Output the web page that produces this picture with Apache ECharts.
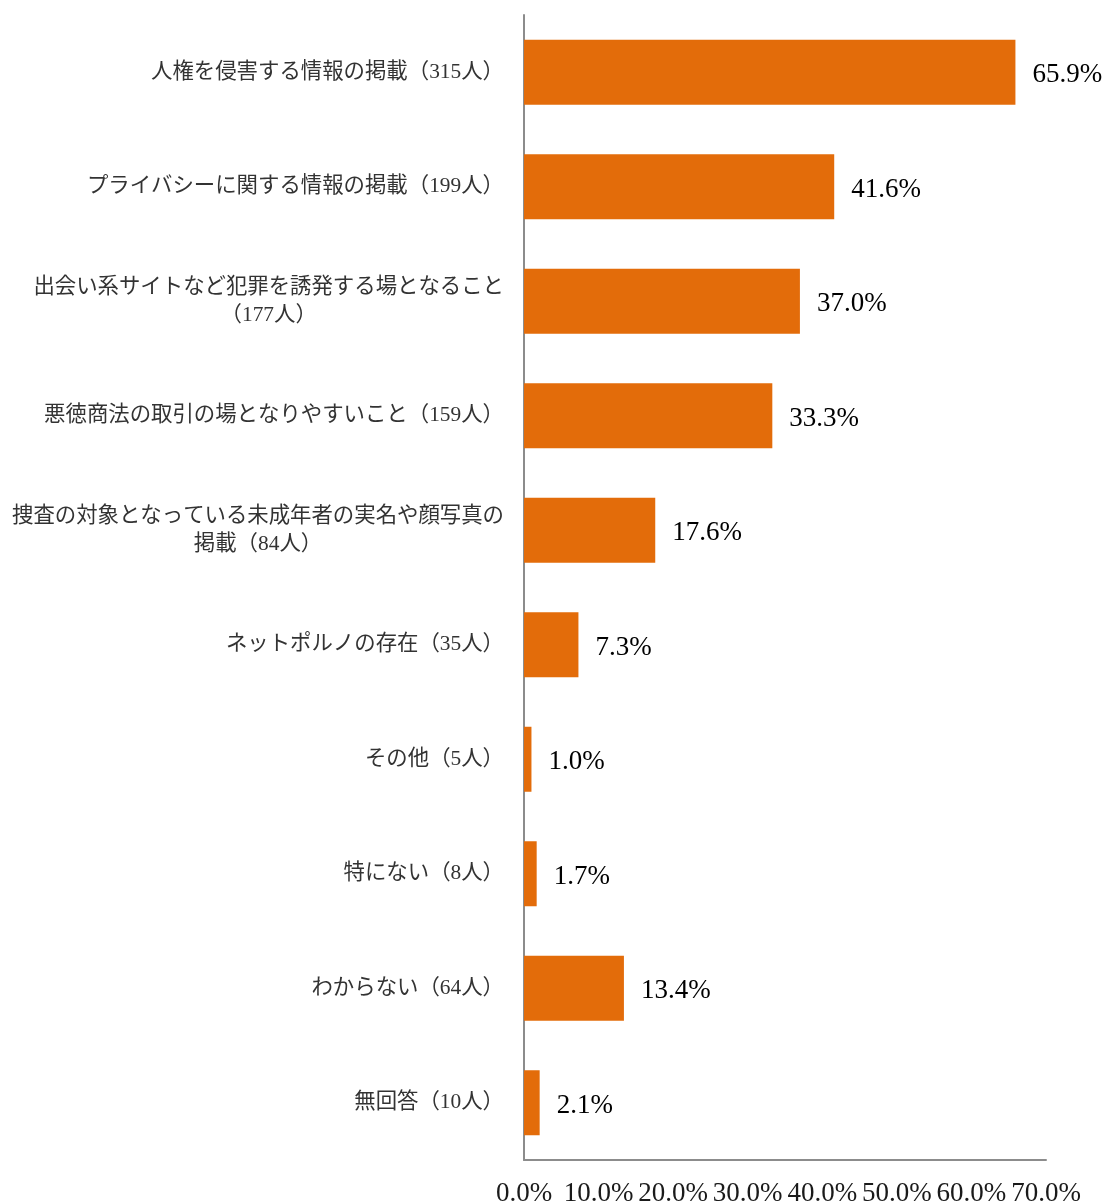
<!DOCTYPE html>
<html>
<head>
<meta charset="utf-8">
<script src="https://cdn.jsdelivr.net/npm/echarts@6/dist/echarts.min.js"></script>
<style>
  html, body { margin: 0; padding: 0; background: #fff; }
  #chart { width: 1107px; height: 1204px; }
</style>
</head>
<body>
<div id="chart"></div>
<script>
// Survey answers (top to bottom) and their share of respondents
const categories = [
  '人権を侵害する情報の掲載（315人）',
  'プライバシーに関する情報の掲載（199人）',
  '出会い系サイトなど犯罪を誘発する場となること\n（177人）',
  '悪徳商法の取引の場となりやすいこと（159人）',
  '捜査の対象となっている未成年者の実名や顔写真の\n掲載（84人）',
  'ネットポルノの存在（35人）',
  'その他（5人）',
  '特にない（8人）',
  'わからない（64人）',
  '無回答（10人）'
];
const percentages = [65.9, 41.6, 37.0, 33.3, 17.6, 7.3, 1.0, 1.7, 13.4, 2.1];
const axisMin = 0;
const axisMax = 70;
const axisStep = 10;

const serif = "'Liberation Serif', 'DejaVu Serif', 'Noto Sans CJK JP', serif";

const chart = echarts.init(document.getElementById('chart'));
chart.setOption({
  animation: false,
  backgroundColor: '#ffffff',
  grid: {
    left: 524, right: 61, top: 15, bottom: 44,
    containLabel: false,
    outerBoundsMode: 'none'
  },
  xAxis: {
    type: 'value',
    min: axisMin,
    max: axisMax,
    interval: axisStep,
    splitLine: { show: false },
    axisTick: { show: false },
    axisLine: { show: true, lineStyle: { color: '#8c8c8c', width: 2 } },
    axisLabel: {
      margin: 20,
      fontFamily: serif,
      fontSize: 27,
      color: '#1a1a1a',
      hideOverlap: false,
      formatter: v => v.toFixed(1) + '%'
    }
  },
  yAxis: {
    type: 'category',
    data: categories,
    inverse: true,
    axisTick: { show: false },
    axisLine: { show: true, lineStyle: { color: '#8c8c8c', width: 2 } },
    axisLabel: {
      margin: 20,
      align: 'right',
      interval: 0,
      formatter: v => v.split('\n').map(s => '{c|' + s + '}').join('\n'),
      rich: {
        c: {
          align: 'center',
          fontFamily: serif,
          fontSize: 21.4,
          lineHeight: 28,
          color: '#333333'
        }
      }
    }
  },
  series: [{
    type: 'bar',
    data: percentages,
    barWidth: 65,
    itemStyle: { color: '#E36C0A' },
    label: {
      show: true,
      position: 'right',
      distance: 17,
      offset: [0, 3],
      fontFamily: serif,
      fontSize: 27,
      color: '#000000',
      formatter: p => p.value.toFixed(1) + '%'
    }
  }]
});
</script>
</body>
</html>
